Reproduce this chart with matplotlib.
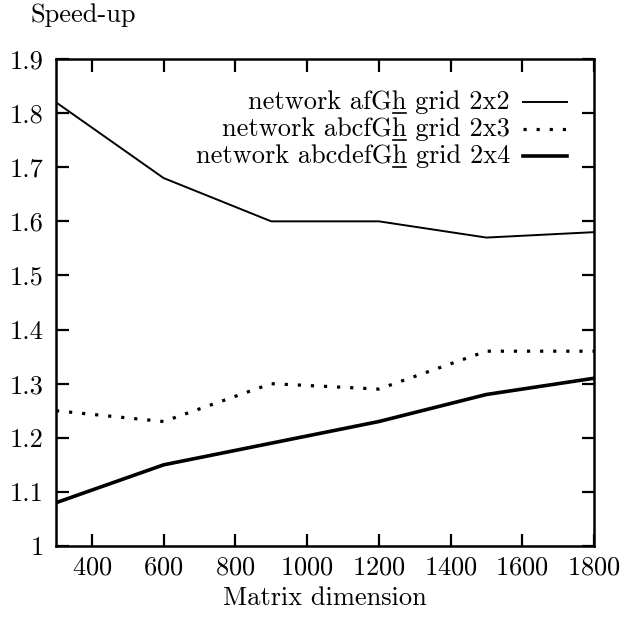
import matplotlib
matplotlib.use("Agg")
import matplotlib.pyplot as plt
from matplotlib.ticker import FuncFormatter

plt.rcParams["font.family"] = ["cmr10", "DejaVu Serif"]
plt.rcParams["mathtext.fontset"] = "cm"
plt.rcParams["axes.formatter.use_mathtext"] = True

FS = 19

# matrix dimension vs speed-up
dims = [300, 600, 900, 1200, 1500, 1800]
speedup_2x2 = [1.82, 1.68, 1.60, 1.60, 1.57, 1.58]
speedup_2x3 = [1.25, 1.23, 1.30, 1.29, 1.36, 1.36]
speedup_2x4 = [1.08, 1.15, 1.19, 1.23, 1.28, 1.31]

labels = ["network afGh grid 2x2", "network abcfGh grid 2x3", "network abcdefGh grid 2x4"]
xticks = [400, 600, 800, 1000, 1200, 1400, 1600, 1800]
yticks = [1.0, 1.1, 1.2, 1.3, 1.4, 1.5, 1.6, 1.7, 1.8, 1.9]

fig = plt.figure(figsize=(6.2, 6.2), dpi=100)
ax = fig.add_axes([56 / 620, 1 - 546 / 620, 538 / 620, 487 / 620])

styles = [
    dict(color="black", linewidth=1.4, linestyle="-"),
    dict(color="black", linewidth=2.3, linestyle=(0, (1, 3.1)), dash_capstyle="butt"),
    dict(color="black", linewidth=2.6, linestyle="-"),
]
series = [speedup_2x2, speedup_2x3, speedup_2x4]
for s, st in zip(series, styles):
    ax.plot(dims, s, **st)

ax.set_xlim(300, 1800)
ax.set_ylim(1.0, 1.9)
ax.set_xticks(xticks)
ax.set_yticks(yticks)
ax.yaxis.set_major_formatter(FuncFormatter(lambda v, p: "%g" % round(v, 1)))
ax.tick_params(direction="in", length=9, width=1.6, top=True, right=True,
               labelsize=FS)
ax.tick_params(axis="y", pad=9)
ax.tick_params(axis="x", pad=7)
for sp in ax.spines.values():
    sp.set_linewidth(1.8)

ax.set_xlabel("Matrix dimension", fontsize=FS, labelpad=5)
fig.text(30 / 620, 1 - 15 / 620, "Speed-up", fontsize=FS, va="center", ha="left")

# hand-made key, gnuplot style
fig.canvas.draw()
renderer = fig.canvas.get_renderer()
x_txt = 510 / 620
rows_y = [1 - 102 / 620, 1 - 129 / 620, 1 - 156 / 620]
for lab, st, yy in zip(labels, styles, rows_y):
    t = fig.text(x_txt, yy, lab, fontsize=FS, ha="right", va="center")
    full = t.get_window_extent(renderer)
    hpos = lab.index("Gh") + 2
    tmp1 = fig.text(0, 0, lab[:hpos - 1], fontsize=FS)
    tmp2 = fig.text(0, 0, lab[:hpos], fontsize=FS)
    w1 = tmp1.get_window_extent(renderer).width
    w2 = tmp2.get_window_extent(renderer).width
    tmp1.remove()
    tmp2.remove()
    ux0 = (full.x0 + w1 + 0.5) / fig.bbox.width
    ux1 = (full.x0 + w2 - 0.5) / fig.bbox.width
    uy = full.y0 / fig.bbox.height + 1.0 / 620
    fig.add_artist(plt.Line2D([ux0, ux1], [uy, uy], color="black", linewidth=1.2))
    fig.add_artist(plt.Line2D([523 / 620, 567 / 620], [yy, yy], **st))

fig.savefig("out.png", dpi=100)
